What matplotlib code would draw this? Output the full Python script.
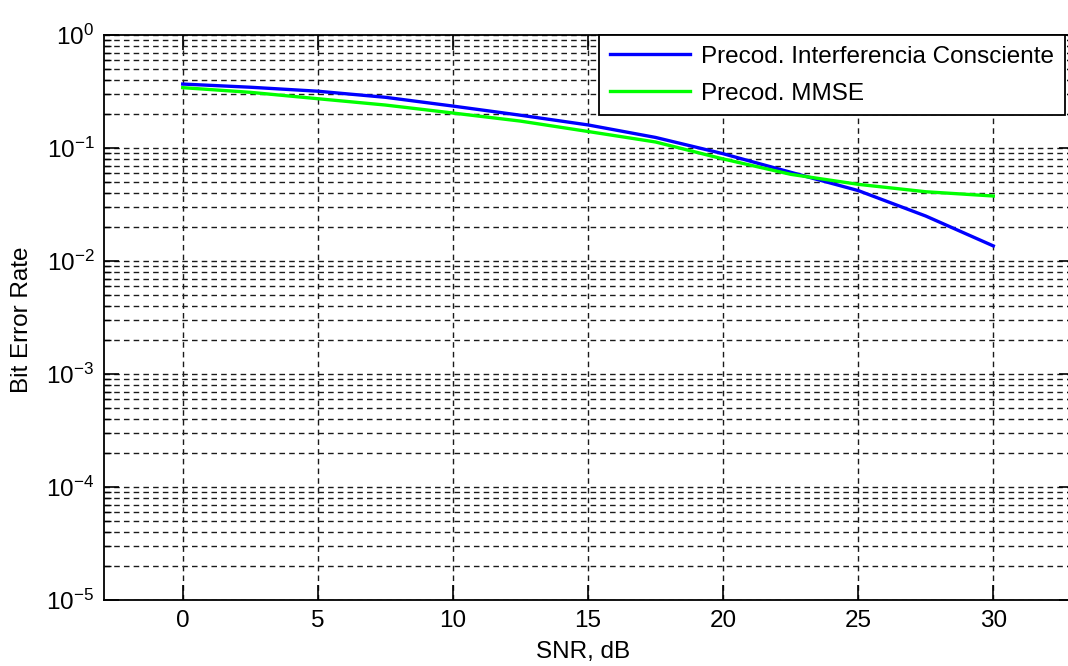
import matplotlib
matplotlib.use("Agg")
import matplotlib.pyplot as plt
from matplotlib.ticker import LogLocator, NullFormatter, FixedLocator

plt.rcParams["font.family"] = ["Liberation Sans", "DejaVu Sans"]
plt.rcParams["mathtext.fontset"] = "custom"
plt.rcParams["mathtext.rm"] = "Liberation Sans"
plt.rcParams["mathtext.it"] = "Liberation Sans"
plt.rcParams["mathtext.bf"] = "Liberation Sans"

# SNR sweep (dB) and measured bit error rates
snr_db = [0, 2.5, 5, 7.5, 10, 12.5, 15, 17.5, 20, 22.5, 25, 27.5, 30]
ber_interference_aware = [0.368, 0.345, 0.318, 0.281, 0.235, 0.195, 0.160,
                          0.124, 0.089, 0.061, 0.0420, 0.0250, 0.0136]
ber_mmse = [0.342, 0.311, 0.273, 0.240, 0.204, 0.173, 0.140,
            0.113, 0.080, 0.0585, 0.0477, 0.0410, 0.0376]

series_labels = ["Precod. Interferencia Consciente", "Precod. MMSE"]
x_ticks = [0, 5, 10, 15, 20, 25, 30]

W, H = 1068, 666
FS = 17.5
fig = plt.figure(figsize=(W / 100, H / 100), dpi=100)

# axes box in pixels: left 104, top 35, bottom 600; extends past right edge
left_px, top_px, bottom_px = 104, 35, 600
px_per_unit = 27.02
x_left = -(182.7 - left_px) / px_per_unit
x_right = 33.0
width_px = (x_right - x_left) * px_per_unit
ax = fig.add_axes([left_px / W, 1 - bottom_px / H, width_px / W,
                   (bottom_px - top_px) / H])

ax.semilogy(snr_db, ber_interference_aware, color="#0000ff", lw=2.4,
            label=series_labels[0], zorder=3)
ax.semilogy(snr_db, ber_mmse, color="#00ff00", lw=2.4,
            label=series_labels[1], zorder=3)

ax.set_xlim(x_left, x_right)
ax.set_ylim(1e-5, 1)
ax.xaxis.set_major_locator(FixedLocator(x_ticks))
ax.yaxis.set_major_locator(LogLocator(base=10, numticks=10))
ax.yaxis.set_minor_locator(LogLocator(base=10, subs=range(2, 10), numticks=20))
ax.yaxis.set_minor_formatter(NullFormatter())

dash = (0, (4.0, 3.0))
ax.grid(True, which="major", axis="both", color="0.1", lw=1.0, linestyle=dash)
ax.grid(True, which="minor", axis="y", color="0.1", lw=1.0, linestyle=dash)

ax.tick_params(which="major", direction="in", length=11, width=1.2,
               labelsize=FS, top=True, right=True, pad=7, colors="black")
ax.tick_params(which="minor", direction="in", length=5, width=1.0,
               top=True, right=True)
for s in ax.spines.values():
    s.set_linewidth(1.3)
    s.set_color("black")

# axis titles placed at fixed figure pixel positions
fig.text(583 / W, 1 - 652 / H, "SNR, dB", fontsize=FS, ha="center", va="center")
fig.text(22 / W, 1 - 320 / H, "Bit Error Rate", fontsize=FS, rotation=90,
         ha="center", va="center")

leg = fig.legend(loc="upper right", bbox_to_anchor=(1065 / W, 1 - 35 / H),
                 fontsize=FS, frameon=True, fancybox=False, shadow=False,
                 borderaxespad=0, borderpad=0.45, labelspacing=0.6,
                 handlelength=3.3, handletextpad=0.45)
leg.get_frame().set_edgecolor("black")
leg.get_frame().set_linewidth(1.3)
leg.get_frame().set_alpha(1)

fig.savefig("out.png", dpi=100)
